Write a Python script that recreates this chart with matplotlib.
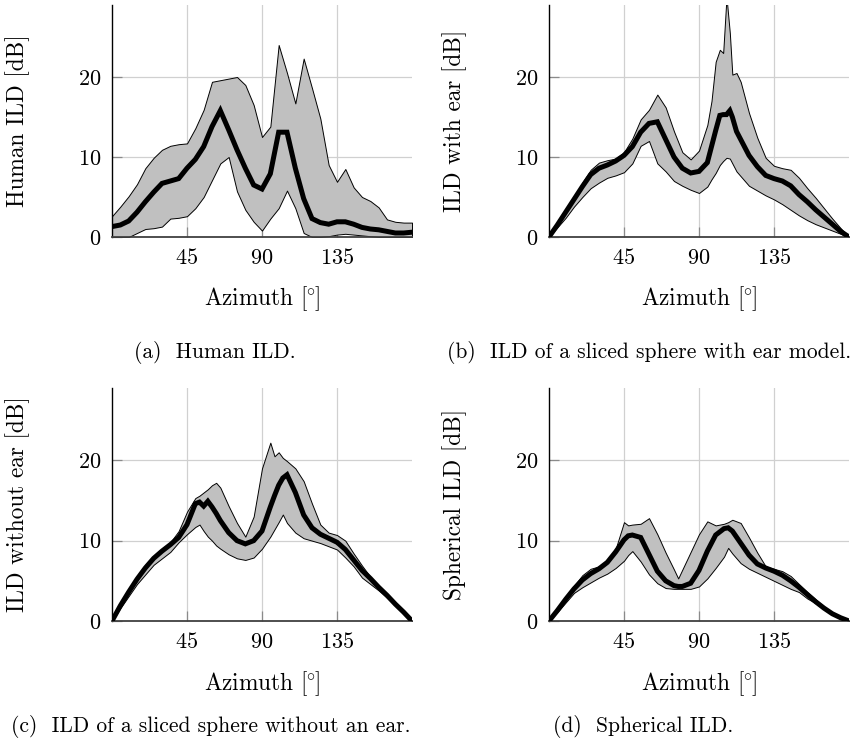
import matplotlib
matplotlib.use("Agg")
import matplotlib.pyplot as plt
import numpy as np

# Azimuth grids (deg) and ILD values (dB)
az_a = list(range(0, 181, 5))
mean_a = [1.3, 1.5, 2.0, 3.1, 4.4, 5.6, 6.7, 7.0, 7.3, 8.6, 9.7, 11.3, 13.8, 15.8, 13.4, 10.9, 8.6, 6.5, 6.0,
          7.9, 13.1, 13.1, 8.6, 4.8, 2.3, 1.8, 1.6, 1.9, 1.9, 1.6, 1.2, 1.0, 0.9, 0.7, 0.5, 0.5, 0.6]
upper_a = [2.6, 3.8, 5.1, 6.6, 8.6, 9.9, 10.9, 11.4, 11.6, 11.7, 13.6, 15.9, 19.4, 19.6, 19.8, 20.0, 19.0, 16.5,
           12.5, 13.8, 24.0, 20.5, 16.7, 22.3, 18.6, 14.8, 9.0, 6.9, 8.5, 6.2, 5.0, 4.5, 3.7, 2.2, 1.9, 1.8, 1.8]
lower_a = [0.0, 0.0, 0.0, 0.5, 1.0, 1.1, 1.3, 2.3, 2.4, 2.6, 3.6, 5.0, 7.1, 9.2, 10.0, 5.7, 3.4, 1.9, 0.8,
           2.3, 3.6, 5.8, 3.6, 0.5, 0.0, 0.0, 0.1, 0.3, 0.4, 0.3, 0.2, 0.1, 0.0, 0.0, 0.0, 0.0, 0.0]

az_b = list(range(0, 96, 5)) + [97.5, 100, 102.5, 104.5, 106.5, 108.5, 110, 112.5, 115] + list(range(120, 181, 5))
mean_b = [0.0, 1.5, 3.1, 4.7, 6.3, 7.8, 8.6, 9.0, 9.5, 10.2, 11.3, 13.1, 14.2, 14.4, 12.2, 10.0, 8.6, 8.0, 8.2,
          9.3, 11.3, 13.3, 15.2, 15.3, 15.3, 15.8, 15.0, 13.2, 12.2,
          10.2, 8.8, 7.7, 7.3, 7.0, 6.4, 5.3, 4.4, 3.4, 2.5, 1.6, 0.7, 0.0]
upper_b = [0.0, 1.6, 3.3, 5.0, 6.8, 8.4, 9.3, 9.6, 9.8, 10.6, 12.3, 14.7, 15.9, 17.8, 16.2, 13.2, 10.6, 9.7, 10.8,
           14.0, 17.0, 21.9, 23.4, 23.0, 30.0, 25.5, 20.3, 20.5, 19.4,
           15.5, 12.4, 9.9, 8.9, 8.6, 8.4, 7.4, 6.1, 4.9, 3.6, 2.3, 1.1, 0.0]
lower_b = [0.0, 1.2, 2.4, 3.8, 5.0, 6.1, 6.8, 7.4, 7.7, 8.1, 9.2, 11.4, 12.0, 9.2, 8.2, 7.0, 6.4, 5.9, 5.5,
           6.3, 7.2, 8.0, 9.0, 9.5, 9.9, 9.8, 9.2, 8.2, 7.6,
           6.4, 5.8, 5.2, 4.7, 4.1, 3.4, 2.7, 2.1, 1.6, 1.2, 0.8, 0.4, 0.0]

az_c = (list(range(0, 51, 5)) + [52.5, 55, 57.5, 60, 62.5] + list(range(65, 96, 5))
        + [97.5, 100, 102.5] + list(range(105, 181, 5)))
mean_c = [0.0, 1.9, 3.6, 5.2, 6.6, 7.8, 8.7, 9.5, 10.4, 12.0, 14.6, 14.8, 14.3, 14.9, 14.2, 13.4,
          12.5, 11.0, 10.0, 9.6, 10.0, 11.2, 14.2, 15.6, 16.9, 17.8,
          18.2, 16.0, 13.2, 11.6, 10.8, 10.3, 9.8, 8.9, 7.6, 6.3, 5.3, 4.2, 3.2, 2.1, 1.1, 0.0]
upper_c = [0.0, 2.1, 3.9, 5.6, 7.0, 8.1, 9.0, 9.8, 11.2, 13.6, 15.3, 15.6, 16.0, 16.4, 16.9, 17.2,
           16.6, 14.3, 12.2, 10.5, 13.0, 19.0, 22.2, 20.5, 21.0, 20.3,
           19.9, 19.0, 17.4, 14.6, 12.0, 11.0, 10.7, 10.0, 8.4, 6.9, 5.5, 4.3, 3.2, 2.1, 1.0, 0.0]
lower_c = [0.0, 1.6, 3.1, 4.6, 5.8, 7.0, 7.8, 8.6, 9.8, 10.8, 11.7, 12.0, 11.2, 10.5, 10.0, 9.4,
           9.0, 8.3, 7.8, 7.6, 7.9, 9.0, 10.5, 11.4, 12.3, 13.25,
           12.2, 11.0, 10.3, 10.0, 9.7, 9.3, 8.9, 7.9, 6.8, 5.4, 4.6, 3.8, 2.9, 1.9, 1.0, 0.0]

az_d = (list(range(0, 46, 5)) + [47.5] + list(range(50, 76, 5)) + [77.5] + list(range(80, 106, 5))
        + [107.5] + list(range(110, 181, 5)))
mean_d = [0.0, 1.3, 2.7, 4.0, 5.1, 5.9, 6.5, 7.3, 8.6, 10.1, 10.6, 10.7, 10.4, 8.3, 6.2, 5.0, 4.4, 4.3,
          4.3, 4.7, 6.3, 8.7, 10.7, 11.5, 11.6, 11.2, 9.7, 8.2, 7.1, 6.6, 6.2, 5.7, 5.0, 4.2, 3.3, 2.4,
          1.6, 0.9, 0.4, 0.0]
upper_d = [0.0, 1.5, 3.0, 4.4, 5.7, 6.5, 6.8, 7.4, 9.0, 12.3, 11.9, 12.0, 12.1, 12.8, 10.8, 8.5, 6.4, 5.3,
           6.4, 8.6, 10.8, 12.4, 11.9, 12.1, 12.3, 12.6, 12.2, 10.4, 8.5, 6.8, 6.5, 6.2, 5.6, 4.6, 3.6, 2.7,
           1.8, 1.0, 0.4, 0.0]
lower_d = [0.0, 1.1, 2.3, 3.5, 4.2, 4.8, 5.4, 5.9, 6.6, 7.5, 8.2, 8.7, 7.4, 5.8, 4.7, 4.1, 4.0, 4.0,
           4.0, 4.0, 4.3, 5.3, 6.6, 8.0, 9.1, 8.4, 7.2, 6.5, 6.0, 5.5, 5.0, 4.5, 4.0, 3.6, 2.8, 2.2,
           1.5, 0.9, 0.4, 0.0]

ylabels = ["Human ILD [dB]", "ILD with ear [dB]", "ILD without ear [dB]", "Spherical ILD [dB]"]
captions = ["(a)  Human ILD.", "(b)  ILD of a sliced sphere with ear model.",
            "(c)  ILD of a sliced sphere without an ear.", "(d)  Spherical ILD."]

plt.rcParams["font.family"] = "serif"
plt.rcParams["font.serif"] = ["cmr10", "DejaVu Serif"]
plt.rcParams["mathtext.fontset"] = "cm"
plt.rcParams["axes.formatter.use_mathtext"] = True

W, H = 852, 740
fig = plt.figure(figsize=(W / 100, H / 100), dpi=100)

# axes boxes in pixels: left, top, right, bottom
boxes = [(112, 5, 412, 237), (549, 5, 849, 237), (112, 388, 412, 621), (549, 388, 849, 621)]
cap_pos = [(215, 353), (649, 353), (211, 727), (643, 727)]
panels = [(az_a, mean_a, lower_a, upper_a), (az_b, mean_b, lower_b, upper_b),
          (az_c, mean_c, lower_c, upper_c), (az_d, mean_d, lower_d, upper_d)]


def draw_panel(ax, az, mean, lower, upper, ylabel):
    ax.fill_between(az, lower, upper, facecolor="#c0c0c0", edgecolor="black", linewidth=0.7, zorder=2)
    ax.plot(az, mean, color="black", linewidth=3.6, solid_joinstyle="miter", zorder=3)
    ax.set_xlim(0, 180)
    ax.set_ylim(0, 29)
    ax.set_xticks([45, 90, 135])
    ax.set_yticks([0, 10, 20])
    ax.grid(True, color="#d0d0d0", linewidth=0.9)
    ax.set_axisbelow(True)
    for s in ["top", "right"]:
        ax.spines[s].set_visible(False)
    ax.spines["left"].set_linewidth(1.0)
    ax.spines["bottom"].set_linewidth(1.3)
    ax.spines["bottom"].set_color("#404040")
    ax.tick_params(direction="in", length=7, width=0.9, color="#8a8a8a", labelsize=16, pad=8)
    ax.set_ylabel(ylabel, fontsize=16.8)
    ax.yaxis.label.set_va("center")
    ax.yaxis.set_label_coords(-0.315, 0.5)
    ax.set_xlabel(r"Azimuth [$\hspace{-0.07}{}^{\circ}\hspace{-0.07}$]", fontsize=16.8)
    ax.xaxis.set_label_coords(0.5, -0.205)


for (l, t, r, b), data, ylab in zip(boxes, panels, ylabels):
    ax = fig.add_axes([l / W, 1 - b / H, (r - l) / W, (b - t) / H])
    draw_panel(ax, *data, ylab)

for (cx, cy), cap in zip(cap_pos, captions):
    fig.text(cx / W, 1 - cy / H, cap, ha="center", va="center", fontsize=15.5)

fig.savefig("out.png", dpi=100)
